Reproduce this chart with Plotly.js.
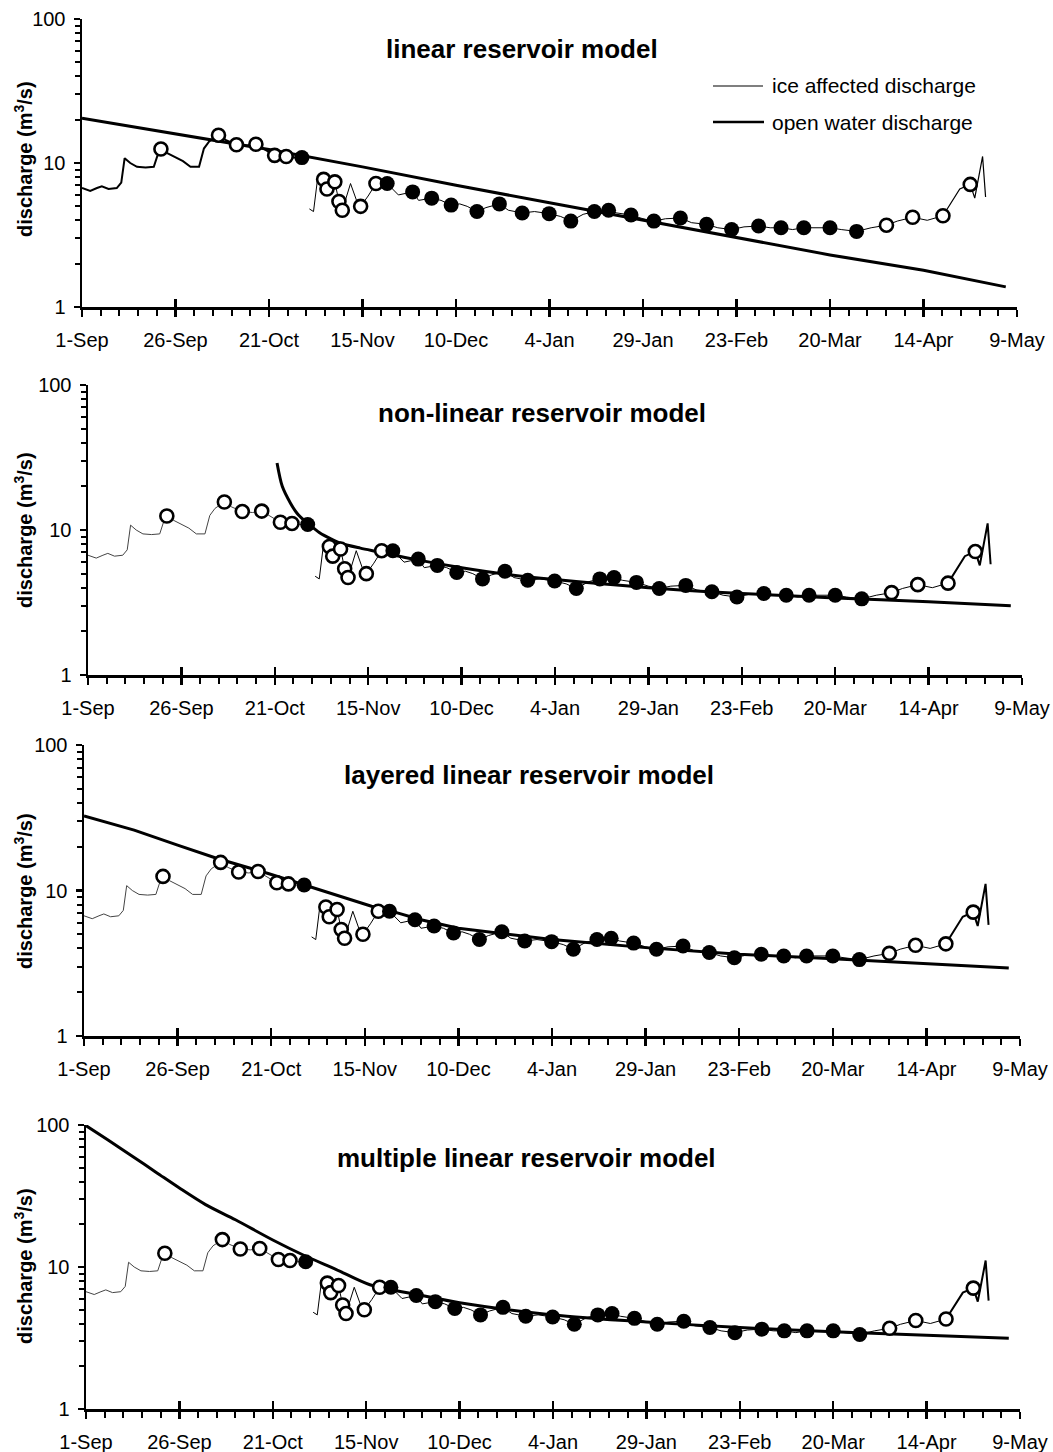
<!DOCTYPE html>
<html><head><meta charset="utf-8">
<script src="https://cdn.plot.ly/plotly-3.0.1.min.js"></script>
<style>html,body{margin:0;padding:0;background:#fff}#chart{width:1053px;height:1452px}</style>
</head><body><div id="chart"></div>
<script>
// x = days since 1 September
const tickDays = [0,25,50,75,100,125,150,175,200,225,250];
const tickLabels = ['1-Sep','26-Sep','21-Oct','15-Nov','10-Dec','4-Jan','29-Jan','23-Feb','20-Mar','14-Apr','9-May'];
const yTickVals = [1,10,100];
const yTickLabels = ['1','10','100'];
const yMinorVals = [2,3,4,5,6,7,8,9,20,30,40,50,60,70,80,90];

// open water discharge, autumn (before freeze-up)
const openDaysA = [0,2.2,4,5.3,7.1,9.3,10.5,11.4,12.9,14.7,17,19.2,20.3,21.1,22.8,25,27,29,31.3,32.6,34,36.5,38.5,41.3,44,46.5,49,51.5,53,54.6,56.5,58.8];
const openQA = [6.7,6.4,6.7,6.9,6.6,6.7,7.3,10.8,10.0,9.4,9.3,9.4,11.5,12.5,11.7,11.0,10.3,9.4,9.4,12.6,14.1,15.6,14.4,13.4,13.2,13.5,12.3,11.3,10.9,11.1,10.9,10.9];

// ice affected discharge
const iceDays = [60.8,61.9,63.1,64.6,65.5,66.5,67.6,68.7,69.6,71.8,73.4,74.5,76.5,78.6,81.6,84.6,88.4,90,93.5,96,98.7,101,103,105.6,108,111.6,114,117.7,121,124.9,128,130.7,134,137,140.8,143,146.8,150,152.9,156,160,163,167,170,173.7,177,180.9,184,186.9,190,193,196,200,203,207.1,211,215.1,218,222.1,226,230.2];
const iceQ = [4.8,4.6,8.2,7.7,6.6,7.2,7.4,5.4,4.7,7.2,5.5,5.0,5.9,7.2,7.2,6.0,6.3,5.5,5.7,5.5,5.1,5.2,5.0,4.6,4.9,5.2,4.7,4.5,4.6,4.45,4.25,3.95,4.4,4.6,4.7,4.5,4.35,4.1,3.95,4.1,4.15,3.85,3.75,3.55,3.45,3.6,3.65,3.55,3.55,3.45,3.55,3.55,3.55,3.45,3.35,3.55,3.7,3.95,4.2,4.0,4.3];

// open water discharge, spring break-up
const openDaysB = [230.2,234.7,237.5,238.7,240.8,241.6];
const openQB = [4.3,6.6,7.1,5.7,11.1,5.8];

// measurements
const openCircleDays = [21.1,36.5,41.3,46.5,51.5,54.6,64.6,65.5,67.6,68.7,69.6,74.5,78.6,215.1,222.1,230.2,237.5];
const openCircleQ = [12.5,15.6,13.4,13.5,11.3,11.1,7.7,6.6,7.4,5.4,4.7,5.0,7.2,3.7,4.2,4.3,7.1];
const filledCircleDays = [58.8,81.6,88.4,93.5,98.7,105.6,111.6,117.7,124.9,130.7,137,140.8,146.8,152.9,160,167,173.7,180.9,186.9,193,200,207.1];
const filledCircleQ = [10.9,7.2,6.3,5.7,5.1,4.6,5.2,4.5,4.45,3.95,4.6,4.7,4.35,3.95,4.15,3.75,3.45,3.65,3.55,3.55,3.55,3.35];

// model recessions
const linearDays = [0,25,50,75,100,125,150,175,200,225,247];
const linearQ = [20.5,16.0,12.4,9.4,7.0,5.3,4.0,3.05,2.3,1.8,1.38];
const nonlinearDays = [50.6,52,54.2,56,57.8,60,62.2,65,67.6,72.9,77.4,90,100,112,125,150,175,200,225,247];
const nonlinearQ = [29,20,15.3,13,11.7,10.5,9.5,8.7,8.1,7.5,7.1,6.1,5.5,4.95,4.55,4.0,3.65,3.4,3.2,3.0];
const layeredDays = [0,13.4,25,35.6,49.2,59.9,67,76.8,83,90,100,125,150,175,200,225,247];
const layeredQ = [32.5,26,20.5,16.6,13.1,10.7,9.3,7.8,7.1,6.3,5.5,4.6,4.05,3.65,3.4,3.15,2.93];
const multipleDays = [0,6,12.5,19,25,32,40,50,58,67,76,90,100,125,150,175,200,225,247];
const multipleQ = [99,78,60,46,36,27.5,21.5,15.5,12.2,9.6,7.5,6.3,5.6,4.6,4.1,3.75,3.5,3.3,3.15];

const panelTitles = ['linear reservoir model','non-linear reservoir model','layered linear reservoir model','multiple linear reservoir model'];
const modelDays = [linearDays, nonlinearDays, layeredDays, multipleDays];
const modelQ = [linearQ, nonlinearQ, layeredQ, multipleQ];
const modelShape = ['linear','spline','linear','spline'];

const W = 1053, H = 1452;
// pixel geometry of each panel: [left, right, top, bottom]
const panelBox = [[82,1017,19,307],[88,1022,385,675],[84,1020,745,1036],[86,1020,1125,1409]];
const titlePos = [[522,49],[542,413],[529,775],[526,1158]];
const yTitleY = [159,530,891,1266];

const FONT = 'Liberation Sans, Arial, Helvetica, sans-serif';
const traces = [];
const layout = {
  width: W, height: H, autosize: false,
  margin: {l:0, r:0, t:0, b:0, pad:0},
  paper_bgcolor: '#fff', plot_bgcolor: 'rgba(0,0,0,0)',
  showlegend: false,
  font: {family: FONT, color: '#000'},
  annotations: [], shapes: []
};

for (let i = 0; i < 4; i++) {
  const sx = i === 0 ? '' : String(i+1);
  const xa = 'x' + sx, ya = 'y' + sx;
  const xo = 'x' + (i+5), yo = 'y' + (i+5);
  const b = panelBox[i];
  layout['xaxis' + sx] = {
    domain: [b[0]/W, b[1]/W], anchor: ya, range: [0,250],
    tickmode: 'array', tickvals: tickDays, ticktext: tickLabels,
    ticks: 'outside', ticklen: 7, tickwidth: 2.5, tickcolor: '#000',
    showline: true, linewidth: 2.5, linecolor: '#000',
    showgrid: false, zeroline: false,
    tickfont: {size: 20, color: '#000', family: FONT},
    ticklabelstandoff: 6,
    minor: {tickmode: 'linear', tick0: 0, dtick: 5, ticks: 'outside', ticklen: 6, tickwidth: 2, tickcolor: '#000', showgrid: false},
    fixedrange: true
  };
  layout['yaxis' + sx] = {
    domain: [1 - b[3]/H, 1 - b[2]/H], anchor: xa, type: 'log', range: [0,2],
    tickmode: 'array', tickvals: yTickVals, ticktext: yTickLabels,
    ticks: 'outside', ticklen: 6, tickwidth: 2.5, tickcolor: '#000',
    showline: true, linewidth: 2.5, linecolor: '#000',
    showgrid: false, zeroline: false,
    tickfont: {size: 20, color: '#000', family: FONT},
    ticklabelstandoff: 4,
    fixedrange: true
  };
  // overlay axis: upward half of the crossing major x ticks
  layout['xaxis' + (i+5)] = {
    overlaying: xa, anchor: ya, side: 'bottom', range: [0,250],
    tickmode: 'array', tickvals: tickDays, showticklabels: false,
    ticks: 'inside', ticklen: 8, tickwidth: 2.5, tickcolor: '#000',
    showline: false, showgrid: false, zeroline: false, fixedrange: true
  };
  // overlay axis: minor y ticks
  layout['yaxis' + (i+5)] = {
    overlaying: ya, anchor: xa, side: 'left', type: 'log', range: [0,2],
    tickmode: 'array', tickvals: yMinorVals, showticklabels: false,
    ticks: 'outside', ticklen: 6, tickwidth: 2, tickcolor: '#000',
    showline: false, showgrid: false, zeroline: false, fixedrange: true
  };
  traces.push({x: [], y: [], xaxis: xo, yaxis: ya, mode: 'lines', hoverinfo: 'skip'});
  traces.push({x: [], y: [], xaxis: xa, yaxis: yo, mode: 'lines', hoverinfo: 'skip'});

  // model line
  traces.push({x: modelDays[i], y: modelQ[i], xaxis: xa, yaxis: ya, mode: 'lines',
    line: {color: '#000', width: 3, shape: modelShape[i], smoothing: 0.8}, hoverinfo: 'skip'});
  // measured discharge lines
  traces.push({x: openDaysA, y: openQA, xaxis: xa, yaxis: ya, mode: 'lines',
    line: {color: i === 0 ? '#000' : '#444', width: i === 0 ? 2 : 1}, hoverinfo: 'skip'});
  traces.push({x: iceDays, y: iceQ, xaxis: xa, yaxis: ya, mode: 'lines',
    line: {color: '#000', width: 1}, hoverinfo: 'skip'});
  traces.push({x: openDaysB, y: openQB, xaxis: xa, yaxis: ya, mode: 'lines',
    line: {color: '#000', width: i === 0 ? 1.2 : 2}, hoverinfo: 'skip'});
  // measurement circles
  traces.push({x: openCircleDays, y: openCircleQ, xaxis: xa, yaxis: ya, mode: 'markers',
    marker: {symbol: 'circle', size: 13, color: '#fff', line: {color: '#000', width: 2.6}}, hoverinfo: 'skip'});
  traces.push({x: filledCircleDays, y: filledCircleQ, xaxis: xa, yaxis: ya, mode: 'markers',
    marker: {symbol: 'circle', size: 15, color: '#000', line: {color: '#000', width: 0}}, hoverinfo: 'skip'});

  layout.annotations.push({
    text: '<b>' + panelTitles[i] + '</b>', xref: 'paper', yref: 'paper',
    x: titlePos[i][0]/W, y: 1 - titlePos[i][1]/H, xanchor: 'center', yanchor: 'middle',
    showarrow: false, font: {size: 26, color: '#000', family: FONT}
  });
  layout.annotations.push({
    text: '<b>discharge (m<sup>3</sup>/s)</b>', xref: 'paper', yref: 'paper',
    x: 23/W, y: 1 - yTitleY[i]/H, xanchor: 'center', yanchor: 'middle', textangle: -90,
    showarrow: false, font: {size: 20, color: '#000', family: FONT}
  });
}

// legend (panel 1)
layout.shapes.push({type: 'line', xref: 'paper', yref: 'paper', x0: 713/W, x1: 763/W, y0: 1 - 86/H, y1: 1 - 86/H, line: {color: '#000', width: 1.2}});
layout.shapes.push({type: 'line', xref: 'paper', yref: 'paper', x0: 713/W, x1: 764/W, y0: 1 - 122/H, y1: 1 - 122/H, line: {color: '#000', width: 2.5}});
layout.annotations.push({text: 'ice affected discharge', xref: 'paper', yref: 'paper', x: 770/W, y: 1 - 86/H,
  xanchor: 'left', yanchor: 'middle', showarrow: false, font: {size: 21, color: '#000', family: FONT}});
layout.annotations.push({text: 'open water discharge', xref: 'paper', yref: 'paper', x: 770/W, y: 1 - 122/H,
  xanchor: 'left', yanchor: 'middle', showarrow: false, font: {size: 21, color: '#000', family: FONT}});

Plotly.newPlot('chart', traces, layout, {staticPlot: true, displayModeBar: false});
</script>
</body></html>
